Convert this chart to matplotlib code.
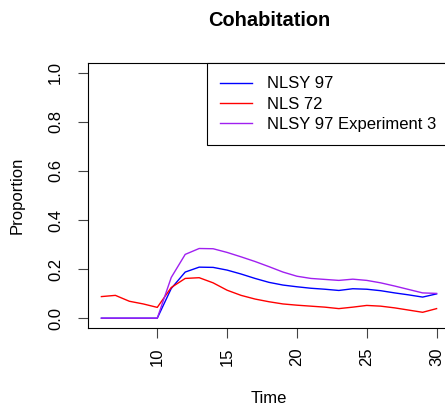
import matplotlib
matplotlib.use("Agg")
import matplotlib.pyplot as plt

plt.rcParams['font.family'] = ['Liberation Sans', 'DejaVu Sans']

time = list(range(6, 31))
nlsy97 = [0, 0, 0, 0, 0, 0.121, 0.188, 0.208, 0.207, 0.196, 0.180, 0.162, 0.146,
          0.135, 0.128, 0.122, 0.118, 0.113, 0.120, 0.118, 0.112, 0.103, 0.095,
          0.086, 0.099]
nls72 = [0.088, 0.093, 0.069, 0.058, 0.044, 0.125, 0.162, 0.165, 0.144, 0.114,
         0.093, 0.078, 0.067, 0.058, 0.053, 0.049, 0.045, 0.039, 0.045, 0.052,
         0.049, 0.042, 0.033, 0.024, 0.039]
exp3 = [0, 0, 0, 0, 0, 0.166, 0.260, 0.284, 0.283, 0.268, 0.250, 0.231, 0.210,
        0.188, 0.171, 0.162, 0.158, 0.154, 0.159, 0.154, 0.144, 0.131, 0.117,
        0.103, 0.101]
xticks = [10, 15, 20, 25, 30]
yticks = [0.0, 0.2, 0.4, 0.6, 0.8, 1.0]

fig = plt.figure(figsize=(4.45, 4.07), dpi=100)
# plot box runs a little past the right edge of the figure
ax = fig.add_axes([88 / 445, 79 / 407, 362 / 445, 265 / 407])

ax.plot(time, nlsy97, color='blue', lw=1, label='NLSY 97')
ax.plot(time, nls72, color='red', lw=1, label='NLS 72')
ax.plot(time, exp3, color='#A020F0', lw=1, label='NLSY 97 Experiment 3')

ax.set_xlim(5.04, 30.96)
ax.set_ylim(-0.04, 1.04)
ax.set_xticks(xticks)
ax.set_xticklabels([str(t) for t in xticks], rotation=90, fontsize=12)
ax.set_yticks(yticks)
ax.set_yticklabels([f"{v:.1f}" for v in yticks], rotation=90, va='center', fontsize=12)
ax.tick_params(axis='both', direction='out', length=7, width=0.8, color='#444444')
ax.tick_params(axis='x', pad=7)
ax.tick_params(axis='y', pad=11)
for s in ax.spines.values():
    s.set_linewidth(0.8)

ax.set_xlabel('Time', fontsize=12, labelpad=18)
ax.set_ylabel('Proportion', fontsize=12, labelpad=17)
fig.text(269 / 445, 1 - 20 / 407, 'Cohabitation', ha='center', va='center',
         fontsize=14.4, fontweight='bold')

leg = ax.legend(loc='upper right', bbox_to_anchor=(1, 1), borderaxespad=0,
                fancybox=False, edgecolor='black', framealpha=1, fontsize=12,
                handlelength=1.9, handletextpad=0.95, labelspacing=0.32,
                borderpad=0.8)
leg.get_frame().set_linewidth(0.8)

fig.savefig('out.png', dpi=100)
